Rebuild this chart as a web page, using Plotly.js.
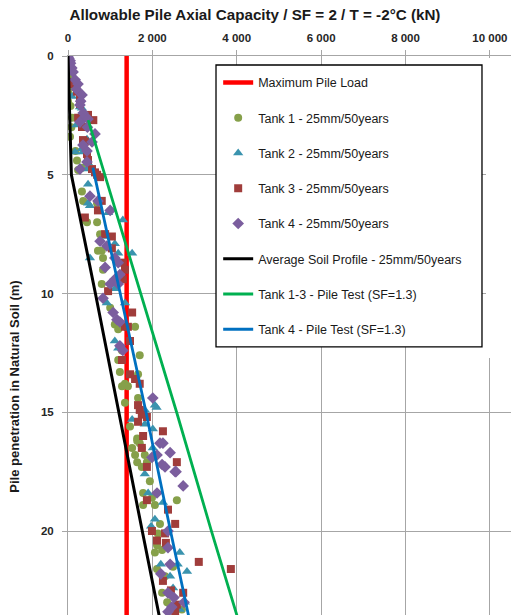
<!DOCTYPE html>
<html>
<head>
<meta charset="utf-8">
<script src="https://cdn.plot.ly/plotly-3.0.1.min.js"></script>
<style>
  html, body { margin: 0; padding: 0; background: #ffffff; }
  #wrap { width: 511px; height: 615px; overflow: hidden; }
  #chart { width: 511px; height: 717px; }
</style>
</head>
<body>
<div id="wrap"><div id="chart"></div></div>
<script>
// ---- Data (depth in m, allowable capacity in kN) ----
const maxLoadDepth = [0, 28];
const maxLoadValue = [1390, 1390];

const tank1Depth = [0.3, 0.8, 1.3, 1.6, 1.9, 2.1, 2.6, 3.0, 3.4, 4.0, 4.4, 4.7, 4.8, 5.7, 6.1, 6.2, 6.9, 7.0, 7.0, 7.5, 8.2, 8.2, 8.5, 9.0, 9.6, 10.6, 11.3, 11.4, 11.5, 12.4, 12.6, 12.8, 13.3, 13.4, 13.8, 13.9, 13.9, 14.4, 14.6, 15.6, 16.1, 16.2, 16.3, 16.5, 16.5, 16.8, 16.8, 17.1, 17.1, 17.3, 17.9, 18.4, 18.6, 18.7, 18.9, 18.9, 19.7, 20.1, 20.6, 20.8, 20.9, 21.5, 21.6, 21.9, 22.6, 23.0, 23.3];
const tank1Value = [30, 50, 90, 20, 0, 60, 95, 80, 47, 180, 213, 332, 240, 330, 360, 690, 400, 450, 690, 760, 800, 710, 830, 830, 800, 1000, 1110, 1590, 1190, 1280, 1700, 1190, 1230, 1660, 1350, 1280, 1420, 1660, 1350, 1470, 1640, 1640, 1700, 1520, 1750, 1590, 1820, 1870, 1640, 1750, 1940, 1780, 1990, 2580, 1780, 2060, 2180, 2130, 2110, 2230, 2060, 2490, 2110, 2300, 2230, 2350, 2700];

const tank2Depth = [0.5, 1.1, 1.7, 2.15, 2.2, 2.9, 3.5, 3.9, 4.04, 4.04, 4.5, 4.7, 4.76, 5.4, 6.2, 6.3, 6.6, 6.9, 7.6, 7.9, 8.3, 8.3, 8.5, 9.8, 10.4, 10.4, 12.0, 12.3, 14.7, 14.8, 14.9, 15.3, 15.5, 15.7, 16.5, 17.6, 18.4, 18.8, 19.5, 19.8, 20.9, 21.4, 21.4, 21.7, 21.9, 22.4, 23.0, 23.3];
const tank2Value = [40, 50, 95, 284, 330, 200, 450, 330, 166, 355, 475, 285, 450, 475, 475, 520, 950, 1300, 950, 1110, 1520, 1190, 520, 1110, 920, 1350, 1110, 1190, 2060, 2100, 1820, 1520, 1820, 2010, 2010, 1820, 1900, 2250, 2060, 1970, 2650, 2200, 2600, 2820, 2420, 2490, 2770, 2650];

const tank3Depth = [0.1, 0.38, 0.5, 1.1, 1.18, 1.5, 1.8, 2.02, 2.48, 2.6, 2.7, 2.99, 3.54, 3.6, 4.13, 4.38, 4.76, 4.9, 5.0, 5.1, 6.1, 6.5, 6.8, 7.5, 7.6, 8.1, 8.7, 9.0, 9.4, 9.9, 10.8, 11.4, 11.4, 12.0, 12.8, 13.4, 13.6, 13.8, 14.7, 14.9, 15.1, 15.2, 15.4, 15.8, 16.0, 16.5, 17.1, 17.3, 18.7, 19.1, 19.7, 20.0, 20.1, 20.4, 20.5, 21.3, 21.6, 22.1, 22.5, 22.6, 23.1, 23.4];
const tank3Value = [0, 47, 30, 0, 47, 213, 285, 284, 474, 240, 600, 332, 355, 400, 450, 474, 569, 640, 690, 760, 800, 710, 400, 880, 1040, 1040, 1300, 1350, 1300, 950, 1520, 1350, 1420, 1470, 1280, 1470, 1590, 1700, 1660, 1700, 1750, 1870, 1660, 2250, 1780, 1750, 2580, 1870, 1870, 2370, 2540, 1990, 2300, 2110, 2320, 3100, 3860, 2250, 2440, 2730, 2580, 2540];

const tank4Depth = [0.04, 0.1, 0.2, 0.3, 0.5, 0.67, 1.0, 1.18, 1.4, 1.64, 1.9, 2.06, 2.4, 2.65, 2.65, 2.78, 3.0, 3.28, 3.62, 3.75, 4.0, 4.46, 4.76, 5.9, 6.1, 6.5, 7.8, 8.0, 8.5, 8.7, 8.9, 9.2, 9.4, 9.6, 9.6, 10.2, 10.8, 11.1, 11.2, 12.2, 12.4, 14.4, 16.3, 16.3, 16.7, 16.8, 16.9, 17.2, 17.3, 17.5, 17.5, 18.1, 18.4, 20.0, 20.7, 21.4, 21.8, 22.6, 22.8, 23.0, 23.2, 23.4];
const tank4Value = [0, 20, 50, 60, 90, 120, 170, 237, 200, 332, 300, 284, 360, 355, 474, 284, 460, 640, 569, 355, 450, 450, 284, 520, 710, 1000, 760, 920, 1110, 1190, 880, 1230, 1110, 1000, 1190, 830, 1070, 1160, 1230, 1230, 1300, 2010, 2180, 2250, 2420, 2110, 1990, 2230, 2300, 2540, 2560, 2730, 2110, 2370, 2370, 2420, 2200, 2370, 2510, 2750, 2460, 2370];

const avgDepth = [0, 1, 2, 3, 4, 5, 10, 15, 20, 24];
const avgValue = [0, 15, 30, 45, 60, 80, 650, 1200, 1760, 2210];

const test13Depth = [2.7, 5, 10, 15, 20, 24];
const test13Value = [480, 870, 1730, 2575, 3400, 4080];

const test4Depth = [4.7, 10, 15, 20, 24];
const test4Value = [590, 1240, 1850, 2430, 2910];

const xTickVals = [0, 2000, 4000, 6000, 8000, 10000];
const xTickText = ['0', '2 000', '4 000', '6 000', '8 000', '10 000'];
const yTickVals = [0, 5, 10, 15, 20];

const seriesNames = [
  'Maximum Pile Load',
  'Tank 1 - 25mm/50years',
  'Tank 2 - 25mm/50years',
  'Tank 3 - 25mm/50years',
  'Tank 4 - 25mm/50years',
  'Average Soil Profile - 25mm/50years',
  'Tank 1-3 - Pile Test (SF=1.3)',
  'Tank 4 - Pile Test (SF=1.3)'
];

// ---- Traces ----
const FONT = 'Liberation Sans, Arial, sans-serif';
function lineTrace(name, x, y, color, width, g) {
  return { type: 'scatter', mode: 'lines', name: name, x: x, y: y, legendgroup: g,
           line: { color: color, width: width }, hoverinfo: 'skip' };
}
function markTrace(name, x, y, color, symbol, size, g) {
  return { type: 'scatter', mode: 'markers', name: name, x: x, y: y, legendgroup: g,
           marker: { color: color, symbol: symbol, size: size, line: { width: 0 } }, hoverinfo: 'skip' };
}

const traces = [
  lineTrace(seriesNames[0], maxLoadValue, maxLoadDepth, '#ff0000', 4.5, 'g0'),
  markTrace(seriesNames[1], tank1Value, tank1Depth, '#86a04a', 'circle', 8, 'g1'),
  markTrace(seriesNames[2], tank2Value, tank2Depth, '#3a93ae', 'triangle-up', 9, 'g2'),
  markTrace(seriesNames[3], tank3Value, tank3Depth, '#a03d3b', 'square', 8, 'g3'),
  markTrace(seriesNames[4], tank4Value, tank4Depth, '#7b5e9e', 'diamond', 9, 'g4'),
  lineTrace(seriesNames[5], avgValue, avgDepth, '#000000', 3, 'g5'),
  lineTrace(seriesNames[6], test13Value, test13Depth, '#00b050', 2.8, 'g6'),
  lineTrace(seriesNames[7], test4Value, test4Depth, '#0070c0', 2.8, 'g7')
];

const layout = {
  width: 511, height: 717,
  margin: { l: 68, r: 0, t: 56, b: 0 },
  paper_bgcolor: '#ffffff', plot_bgcolor: '#ffffff',
  font: { family: FONT, color: '#262626' },
  title: { text: 'Allowable Pile Axial Capacity / SF = 2 / T = -2°C (kN)',
           font: { family: FONT, size: 15.2, color: '#1a1a1a', weight: 'bold' },
           x: 0.422, xref: 'paper', xanchor: 'center', y: 0.979, yref: 'container', yanchor: 'middle' },
  xaxis: {
    side: 'top', range: [0, 10500], tickmode: 'array', tickvals: xTickVals, ticktext: xTickText,
    showgrid: true, gridcolor: '#a6a6a6', gridwidth: 1, zeroline: false,
    showline: true, linecolor: '#a6a6a6', linewidth: 1,
    ticks: 'outside', ticklen: 5, tickcolor: '#a6a6a6', ticklabelstandoff: 3,
    tickfont: { family: FONT, size: 11.5, color: '#262626', weight: 'bold' }, fixedrange: true
  },
  yaxis: {
    range: [27.83, 0], tickmode: 'array', tickvals: yTickVals,
    showgrid: true, gridcolor: '#a6a6a6', gridwidth: 1, zeroline: false,
    showline: true, linecolor: '#a6a6a6', linewidth: 1,
    ticks: 'outside', ticklen: 5, tickcolor: '#a6a6a6', ticklabelstandoff: 6,
    tickfont: { family: FONT, size: 11.5, color: '#262626', weight: 'bold' },
    title: { text: 'Pile penetration in Natural Soil (m)', standoff: 18,
             font: { family: FONT, size: 13, color: '#1a1a1a', weight: 'bold' } },
    automargin: false, fixedrange: true
  },
  showlegend: true,
  legend: {
    x: 0.339, xref: 'paper', xanchor: 'left', y: 0.982, yref: 'paper', yanchor: 'top',
    bgcolor: 'rgba(0,0,0,0)', borderwidth: 0, traceorder: 'grouped', tracegroupgap: 16,
    font: { family: FONT, size: 12.5, color: '#1a1a1a' }
  },
  shapes: [
    { type: 'rect', xref: 'paper', yref: 'paper', x0: 0.9436, x1: 1.01, y0: 0.5431, y1: 0.997,
      fillcolor: '#ffffff', line: { width: 0 }, layer: 'above' },
    { type: 'rect', xref: 'paper', yref: 'paper', x0: 0.3341, x1: 0.9345, y0: 0.5598, y1: 0.9864,
      fillcolor: '#ffffff', line: { color: '#000000', width: 1.3 }, layer: 'above' }
  ]
};

Plotly.newPlot('chart', traces, layout, { displayModeBar: false, staticPlot: true });
</script>
</body>
</html>
